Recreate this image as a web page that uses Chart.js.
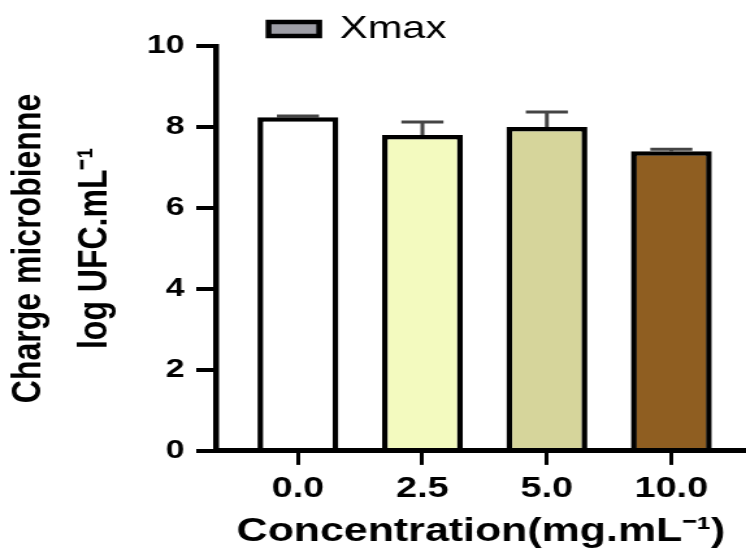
<!DOCTYPE html>
<html>
<head>
<meta charset="utf-8">
<script src="https://cdn.jsdelivr.net/npm/chart.js@4.4.0/dist/chart.umd.min.js"></script>
<style>
  html, body { margin: 0; padding: 0; background: #fff; overflow: hidden; }
  /* plot is drawn narrow and widened, like the exported figure */
  #chart { display: block; transform: scaleX(1.2997); transform-origin: 0 0; }
</style>
</head>
<body>
<canvas id="chart" width="574" height="554"></canvas>
<script>
const concentrations = ['0.0', '2.5', '5.0', '10.0'];
const xmax = [8.24, 7.80, 8.00, 7.40];
const xmaxSd = [0.03, 0.32, 0.37, 0.05];
const barColors = ['#ffffff', '#f3fabf', '#d6d59b', '#8f5e21'];

const FONT = '"Liberation Sans", Arial, sans-serif';
Chart.defaults.font.family = FONT;
Chart.defaults.color = '#000';

// SD whiskers, drawn under the bars so the bar outline covers the stem
const errorBars = {
  id: 'errorBars',
  beforeDatasetsDraw(chart) {
    const { ctx, scales: { y } } = chart;
    const meta = chart.getDatasetMeta(0);
    ctx.save();
    ctx.strokeStyle = '#444';
    ctx.lineWidth = 3;
    meta.data.forEach((bar, i) => {
      const top = y.getPixelForValue(xmax[i] + xmaxSd[i]);
      const half = bar.width * 0.26;
      ctx.beginPath();
      ctx.moveTo(bar.x, bar.y);
      ctx.lineTo(bar.x, top);
      ctx.moveTo(bar.x - half, top);
      ctx.lineTo(bar.x + half, top);
      ctx.stroke();
    });
    ctx.restore();
  }
};

// nudge the legend a little left of centre
const legendOffset = {
  id: 'legendOffset',
  afterLayout(chart) {
    if (!chart.legend) return;
    chart.legend.left -= 12;
    chart.legend.right -= 12;
  }
};

const ctx = document.getElementById('chart').getContext('2d');

new Chart(ctx, {
  type: 'bar',
  data: {
    datasets: [{
      label: 'Xmax',
      data: xmax.map((v, i) => ({ x: i, y: v })),
      backgroundColor: barColors,
      borderColor: '#000',
      borderWidth: 4.5,
      borderSkipped: 'bottom',
      barPercentage: 0.65,
      categoryPercentage: 1
    }]
  },
  options: {
    responsive: false,
    animation: false,
    devicePixelRatio: 1,
    layout: { padding: 0 },
    plugins: {
      tooltip: { enabled: false },
      legend: {
        position: 'top',
        maxHeight: 46,
        labels: {
          font: { family: FONT, size: 32 },
          color: '#000',
          boxWidth: 39,
          boxHeight: 14,
          padding: 13,
          generateLabels: () => [{
            text: 'Xmax',
            fillStyle: '#9e9ea6',
            strokeStyle: '#000',
            lineWidth: 4.5,
            hidden: false,
            datasetIndex: 0
          }]
        }
      }
    },
    scales: {
      x: {
        type: 'linear',
        min: -0.66,
        max: 3.6,
        offset: false,
        afterBuildTicks: (scale) => {
          scale.ticks = concentrations.map((c, i) => ({ value: i }));
        },
        ticks: {
          callback: (v) => concentrations[v],
          font: { family: FONT, size: 29, weight: 'bold' },
          color: '#000',
          padding: 7,
          maxRotation: 0
        },
        grid: {
          offset: false,
          drawOnChartArea: false,
          drawTicks: true,
          tickLength: 14,
          lineWidth: 3,
          color: '#000'
        },
        border: { display: true, width: 5, color: '#000', z: 1 },
        title: {
          display: true,
          text: 'Concentration(mg.mL⁻¹)',
          font: { family: FONT, size: 33, weight: 'bold', lineHeight: 1.1 },
          color: '#000',
          padding: { top: 0, bottom: 4 }
        }
      },
      y: {
        min: 0,
        max: 10,
        ticks: {
          stepSize: 2,
          font: { family: FONT, size: 26, weight: 'bold' },
          color: '#000',
          padding: 9
        },
        grid: {
          drawOnChartArea: false,
          drawTicks: true,
          tickLength: 15,
          lineWidth: 4,
          color: '#000'
        },
        border: { display: true, width: 4.5, color: '#000', z: 1 },
        title: {
          display: true,
          text: ['Charge microbienne', 'log UFC.mL⁻¹'],
          font: { family: FONT, size: 32, weight: 'bold', lineHeight: 1.6 },
          color: '#000',
          padding: { top: -3.5, bottom: 5.2 }
        }
      }
    }
  },
  plugins: [errorBars, legendOffset]
});
</script>
</body>
</html>
